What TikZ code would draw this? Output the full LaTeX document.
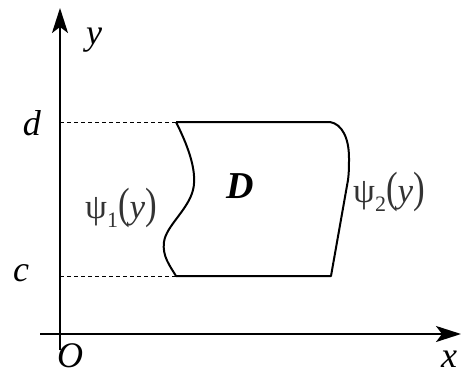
\documentclass[tikz,border=0pt]{standalone}
\usepackage{fontspec}
\setmainfont{Liberation Serif}
\usetikzlibrary{arrows.meta}
\tikzset{
  axis/.style={line width=2pt,-{Stealth[length=25pt,width=16pt,inset=6pt]}},
  guide/.style={line width=1pt,dash pattern=on 4pt off 3pt},
  bound/.style={line width=2pt},
  lbl/.style={inner sep=0pt,font=\fontsize{36}{40}\selectfont\itshape},
  fnl/.style={inner sep=0pt,text=black!80,font=\fontsize{35}{40}\selectfont}
}
\begin{document}
\begin{tikzpicture}[x=1pt,y=-1pt]
\useasboundingbox (0,0) rectangle (461,376);
\coordinate (ybot) at (60,350);
\coordinate (ytop) at (60,8);
\coordinate (xl) at (40,334);
\coordinate (xr) at (461,334);
\draw[axis] (ybot) -- (ytop);
\draw[axis] (xl) -- (xr);
\coordinate (dy) at (60,122);
\coordinate (cy) at (60,276);
\coordinate (A) at (176,122);
\coordinate (B) at (330,122);
\coordinate (C) at (331,276);
\coordinate (E) at (176,276);
\draw[guide] (dy) -- (A);
\draw[guide] (cy) -- (E);
\draw[bound,line join=round] (A) -- (B)
  .. controls (342,124) and (349,138) .. (349,158)
  .. controls (349,168) and (349,172) .. (348,180)
  -- (C) -- (E)
  .. controls (170,266) and (162,256) .. (164,242)
  .. controls (166,226) and (188,210) .. (193,190)
  .. controls (198,170) and (186,142) .. (A);
\node[lbl] (ylab) at (94,40) {y};
\node[lbl] (dlab) at (32,123) {d};
\node[lbl] (clab) at (21,273) {c};
\node[lbl] (olab) at (70,356) {O};
\node[lbl] (xlab) at (449,359) {x};
\node[lbl,font=\fontsize{38}{42}\selectfont\bfseries\itshape] (Dlab) at (240,186) {D};
\node[fnl] (psi1) at (121,208) {ψ\raisebox{-0.25em}{\fontsize{22}{24}\selectfont 1}\scalebox{1}[1.25]{(}\textit{y}\scalebox{1}[1.25]{)}};
\node[fnl] (psi2) at (389,192) {ψ\raisebox{-0.25em}{\fontsize{22}{24}\selectfont 2}\scalebox{1}[1.25]{(}\textit{y}\scalebox{1}[1.25]{)}};
\end{tikzpicture}
\end{document}
